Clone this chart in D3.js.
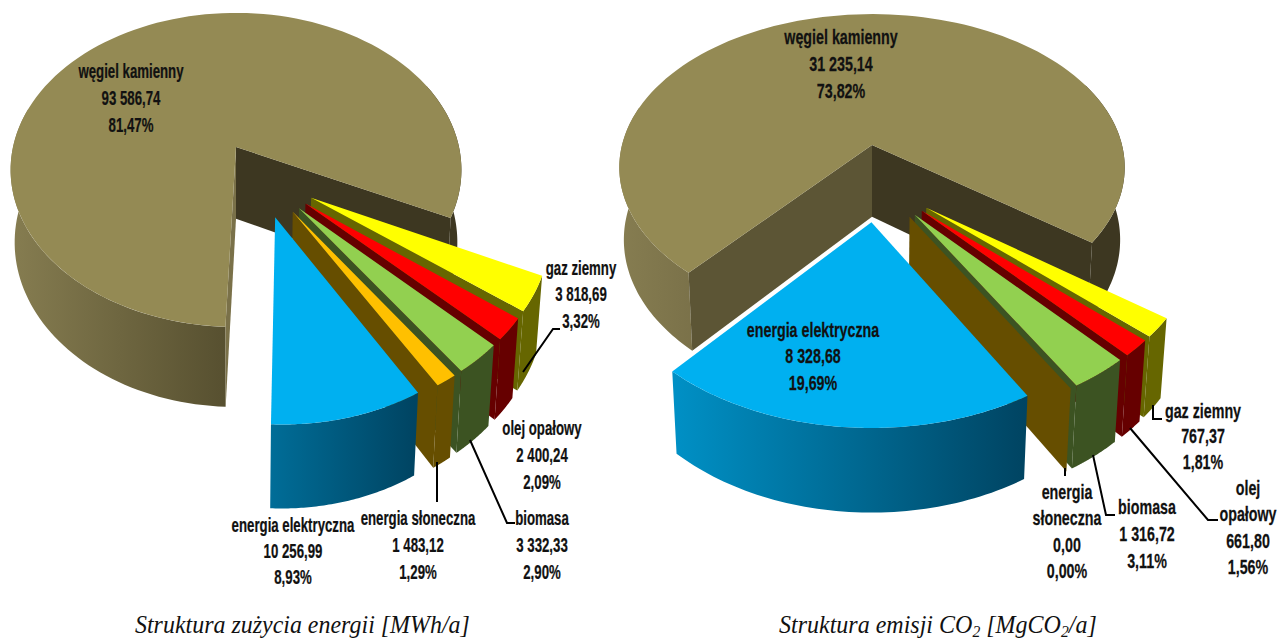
<!DOCTYPE html>
<html>
<head>
<meta charset="utf-8">
<script src="https://cdn.jsdelivr.net/npm/d3@7/dist/d3.min.js"></script>
<style>
  html, body { margin: 0; padding: 0; background: #fff; }
  svg { display: block; }
  .lab { font-family: "Liberation Sans", sans-serif; font-weight: bold; font-size: 21px; fill: #111; stroke: #111; stroke-width: 0.25px; text-anchor: middle; }
  .cap { font-family: "Liberation Serif", serif; font-style: italic; font-size: 26px; fill: #111; }
</style>
</head>
<body>
<svg width="1280" height="640"></svg>
<script>
// slices run clockwise from the cut in the coal slice
var names = ["gaz ziemny", "olej opałowy", "biomasa", "energia słoneczna", "energia elektryczna", "węgiel kamienny"];
var energyValues = [3818.69, 2400.24, 3332.33, 1483.12, 10256.99, 93586.74];
var co2Values = [767.37, 661.80, 1316.72, 0.00, 8328.68, 31235.14];

var topColors = ["#ffff00", "#ff0000", "#92d050", "#ffc000", "#00b0f0", "#948a54"];
var wallColors = ["#666600", "#660000", "#3c5322", "#664e00", "#00587a", "#3d3721"];

var svg = d3.select("svg");

var loc = d3.formatLocale({ decimal: ",", thousands: " ", grouping: [3], currency: ["", ""] });
var fmtVal = loc.format(",.2f"),
    fmtPct = loc.format(".2f");

var line = d3.line();
var tau = 2 * Math.PI, rad = Math.PI / 180;

var defs = svg.append("defs");

function gradient(id, x1, x2, c1, c2) {
  var g = defs.append("linearGradient").attr("id", id)
      .attr("gradientUnits", "userSpaceOnUse")
      .attr("x1", x1).attr("x2", x2).attr("y1", 0).attr("y2", 0);
  g.append("stop").attr("offset", 0).attr("stop-color", c1);
  g.append("stop").attr("offset", 1).attr("stop-color", c2);
}
gradient("coalL", 15, 225, "#857c50", "#575030");
gradient("coalR", 625, 695, "#857c50", "#7a7149");
gradient("blueL", 267, 415, "#006e99", "#004462");
gradient("blueR", 675, 1025, "#0090c5", "#004462");

function drawPie(values, o) {
  var root = svg.append("g");

  // simple perspective: things nearer the viewer and higher up get bigger
  function project(wx, wy, z) {
    var f = 1 / (1 - 0.146 * wy + 0.018 * z);
    return [o.cx + wx * o.rx * f, o.cy + (wy * o.ry + z * o.depth) * f];
  }

  var arcs = d3.pie().sort(null)
      .startAngle(o.start * rad)
      .endAngle(o.start * rad + tau)
      .value(function(d) { return d; })(values);

  // coal sits behind everything, so it goes first
  var order = [arcs.length - 1].concat(d3.range(arcs.length - 1));

  order.forEach(function(i) {
    var d = arcs[i],
        coal = i == arcs.length - 1,
        mid = (d.startAngle + d.endAngle) / 2,
        ax = coal ? 0 : o.shift[0] + o.explode * Math.sin(mid),
        ay = coal ? 0 : o.shift[1] - o.explode * Math.cos(mid);

    function rim(a, z) { return project(ax + Math.sin(a), ay - Math.cos(a), z); }
    function apex(z) { return project(ax, ay, z); }
    function wall(a0, a1) {
      var steps = d3.range(0, 61).map(function(k) { return a0 + (a1 - a0) * k / 60; });
      return line(steps.map(function(a) { return rim(a, 0); })
          .concat(steps.reverse().map(function(a) { return rim(a, 1); }))) + "Z";
    }
    function face(a) {
      return line([apex(0), rim(a, 0), rim(a, 1), apex(1)]) + "Z";
    }

    if (coal) {
      root.append("path").attr("d", wall(d.startAngle, 285 * rad)).attr("fill", "url(#" + o.coalWall + ")");
      root.append("path").attr("d", wall(425 * rad, d.endAngle)).attr("fill", wallColors[i]);
      root.append("path").attr("d", face(d.endAngle)).attr("fill", wallColors[i]);
      root.append("path").attr("d", face(d.startAngle)).attr("fill", o.cutFace);
    } else {
      if (i < arcs.length - 2) root.append("path").attr("d", face(d.endAngle)).attr("fill", wallColors[i]);
      if (d.value > 0) root.append("path").attr("d", wall(d.startAngle, d.endAngle))
          .attr("fill", i == 4 ? "url(#" + o.blueWall + ")" : wallColors[i]);
    }

    if (d.value > 0) {
      var steps = d3.range(0, 121).map(function(k) { return d.startAngle + (d.endAngle - d.startAngle) * k / 120; });
      root.append("path")
          .attr("d", line([apex(0)].concat(steps.map(function(a) { return rim(a, 0); }))) + "Z")
          .attr("fill", topColors[i]);
    }
  });

  root.selectAll(".leader").data(o.leaders).enter().append("path")
      .attr("class", "leader")
      .attr("d", function(d) { return line(d); })
      .attr("fill", "none")
      .attr("stroke", "#000")
      .attr("stroke-width", 2);

  var total = d3.sum(values);
  o.labels.forEach(function(l, i) {
    var lines = l.name.concat([fmtVal(values[i]), fmtPct(values[i] / total * 100) + "%"]);
    var t = root.append("text").attr("class", "lab")
        .attr("transform", "translate(" + l.x + "," + l.y + ") scale(" + o.textScale + ",1)");
    lines.forEach(function(s, k) {
      t.append("tspan").attr("x", 0).attr("y", l.step * k).text(s);
    });
  });
}

drawPie(energyValues, {
  cx: 236, cy: 147, rx: 223, ry: 153.7, depth: 73, start: 115.6,
  explode: 0.255, shift: [0.104, 0.181], textScale: 0.63,
  coalWall: "coalL", blueWall: "blueL", cutFace: "#7a7149",
  leaders: [
    [[523, 372], [553, 329], [560, 329]],
    [[470, 440], [507, 523], [515, 523]],
    [[437, 462], [437, 502]]
  ],
  labels: [
    { name: ["gaz ziemny"], x: 581, y: 275, step: 26.5 },
    { name: ["olej opałowy"], x: 542, y: 435, step: 27 },
    { name: ["biomasa"], x: 542, y: 525, step: 27 },
    { name: ["energia słoneczna"], x: 418, y: 525, step: 27 },
    { name: ["energia elektryczna"], x: 293, y: 532, step: 26 },
    { name: ["węgiel kamienny"], x: 131, y: 78, step: 27 }
  ]
});

drawPie(co2Values, {
  cx: 872, cy: 145, rx: 250, ry: 150, depth: 73, start: 126.5,
  explode: 0.24, shift: [0.02, 0.24], textScale: 0.68,
  coalWall: "coalR", blueWall: "blueR", cutFace: "#5c5535",
  leaders: [
    [[1153, 405], [1153, 419], [1162, 419]],
    [[1130, 428], [1208, 520], [1218, 520]],
    [[1093, 455], [1106, 515], [1115, 515]],
    [[1065, 468], [1065, 476]]
  ],
  labels: [
    { name: ["gaz ziemny"], x: 1203, y: 418, step: 25.5 },
    { name: ["olej", "opałowy"], x: 1248, y: 495, step: 26.5 },
    { name: ["biomasa"], x: 1147, y: 514, step: 27 },
    { name: ["energia", "słoneczna"], x: 1067, y: 499, step: 26.5 },
    { name: ["energia elektryczna"], x: 813, y: 337, step: 26.5 },
    { name: ["węgiel kamienny"], x: 841, y: 44, step: 27 }
  ]
});

// captions
function caption(x, width, parts) {
  var t = svg.append("text").attr("class", "cap").attr("x", 0).attr("y", 0);
  parts.forEach(function(p) {
    var s = t.append("tspan").text(p.t);
    if (p.sub) s.attr("dy", 4).style("font-size", "17px");
    if (p.back) s.attr("dy", -4);
  });
  var w = t.node().getComputedTextLength();
  t.attr("transform", "translate(" + x + ",633) scale(" + (width / w) + ",1)");
}
caption(135, 335, [{ t: "Struktura zużycia energii [MWh/a]" }]);
caption(779, 318, [
  { t: "Struktura emisji CO" }, { t: "2", sub: true },
  { t: " [MgCO", back: true }, { t: "2", sub: true }, { t: "/a]", back: true }
]);
</script>
</body>
</html>
